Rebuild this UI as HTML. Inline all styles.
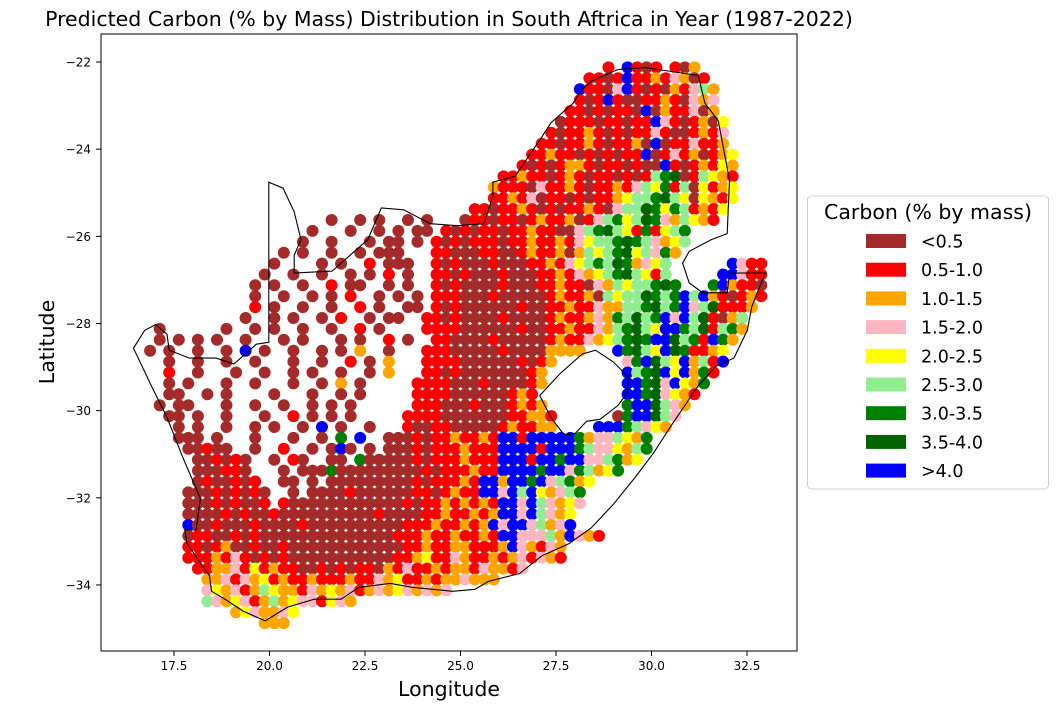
<!DOCTYPE html>
<html><head><meta charset="utf-8">
<style>
html,body{margin:0;padding:0;background:#fff;}
svg{display:block;font-family:"DejaVu Sans","Liberation Sans",sans-serif;}
</style></head>
<body>
<svg id="chart" width="1058" height="709" viewBox="0 0 1058 709" xmlns="http://www.w3.org/2000/svg">
<rect x="0" y="0" width="1058" height="709" fill="#fff"/>
<text x="449" y="26" font-size="20.5" text-anchor="middle">Predicted Carbon (% by Mass) Distribution in South Aftrica in Year (1987-2022)</text>
<g id="dots"></g>
<g id="outline"></g>
<rect x="101" y="34" width="696" height="617" fill="none" stroke="#000" stroke-width="1"/>
<g id="xticks"></g>
<g id="yticks"></g>
<text x="449" y="696" font-size="20.5" text-anchor="middle">Longitude</text>
<text x="54" y="342" font-size="20.5" text-anchor="middle" transform="rotate(-90 54 342)">Latitude</text>
<g id="legend">
<rect x="807.5" y="196" width="241" height="293" rx="4" fill="#fff" stroke="#d0d0d0"/>
<text x="928" y="219" font-size="20.5" text-anchor="middle">Carbon (% by mass)</text>
</g>
</svg>
<script>
// ---- data ----
const classLabels = ["<0.5","0.5-1.0","1.0-1.5","1.5-2.0","2.0-2.5","2.5-3.0","3.0-3.5","3.5-4.0",">4.0"];
const classCodes = ["b","r","o","p","y","l","g","d","u"];
const classColors = ["#a52a2a","#ff0000","#ffa500","#ffb6c1","#ffff00","#90ee90","#008000","#006400","#0000ff"];
const xTicks = [17.5,20.0,22.5,25.0,27.5,30.0,32.5];
const yTicks = [-22,-24,-26,-28,-30,-32,-34];
const gridLon0 = 16.5, gridLat0 = -22.0, gridStep = 0.25;
// each row (0.25 deg latitude band): list of [startColumn, class codes] ('.' = no sample)
const gridRows = [
 [[49,"r.urbr.rbo"]],
 [[47,"rrbrurrorpobr"]],
 [[46,"urrbpurbrborplo"]],
 [[46,"rbrurbbrrorbpop"]],
 [[45,"rrbrbrrbuborrpbo"]],
 [[44,"brrrbrrbrruprbroby"]],
 [[43,"rbrrorbrbrrprbbrorp"]],
 [[42,"rrbrrorbrrobubrrprro"]],
 [[41,"rrorrbrbrbrrubrprobroy"]],
 [[40,"rbrbroorbrrbrbburbroryo"]],
 [[38,"rrorrbrorbrrbrbrlgdbrlyor"]],
 [[37,"orrrbprrorbrrorplygrlbyroy"]],
 [[37,"rrorpbrrbrbrroyllgdlybyory"]],
 [[35,"rrbrrorbrbrrorbplldgyglrory"]],
 [[20,"b..b.b..b.b."],[34,"brrbrrbrorrobrplgyldgpolyor"]],
 [[18,"b...b..b.b.bb"],[32,"rbrbrrbrrorrbbplgdlyrgrylg"]],
 [[17,"b..b...b.bb.b"],[31,"rbrbrrrbrrorrorpyllgdglpoyl"]],
 [[15,"b.b..b..b.bbb."],[31,"rrbbbrrbbrorrobolylgdylpgo"]],
 [[14,"b....b.b..r.bbb."],[31,"rbrbbbrbbbrrorpylgldgopyl"],[62,"uprr"]],
 [[13,"b..b..b..b.b.r.b"],[31,"rrbrbbbrbbbrrorpoylgdlyrl"],[61,"uuprr"]],
 [[12,"b.b..b..r.bb..b.b."],[31,"rbrbbbbrbbbrrorrbpolyllgdg"],[60,"guorrb"]],
 [[12,"b..b..b.b.r..b.b.b"],[31,"rrrbbbrbbbbbrorroblylldglguluorbror"]],
 [[12,"r.b..b..b..r.b..bb"],[31,"rbrbbbbbbrbbrrorrpoollgdlgupldrrro"]],
 [[11,"b..b.b..b.r..b.bb."],[30,"rrbrbbbbrbbbbrorropogldlgupuldrbol"]],
 [[2,"b"],[9,"b..b.b..b..b..r.b."],[30,"rrrrbbbbbbrbbrrorrpolgdlyuugldrlgo"]],
 [[0,"..b.b.b.b..b...b.b...b.b..r.b."],[31,"rrbbbbrbbbbbrorrpoylgdguudlgrugo"]],
 [[1,"b.b..b..b.u.b..b..b.b.o..b"],[30,"rrrbbbbbrbbbboooo"],[50,"ugdlyudgrroy"]],
 [[3,"b..b..b..b...b..b..r.b.o."],[30,"rrrrbbbbbbrbro"],[51,"pgudlyuolru"]],
 [[3,"r..b...b..b..b.b..b..b.o"],[30,"rrbrbbbbbbbro"],[51,"ulgduyuogr"]],
 [[3,"b.b...b..b...b..b.o.b."],[29,"rrrrbbbrbbbbro"],[51,"uugdpuyog"]],
 [[3,"bb..b.b....b...b..b.b."],[29,"rrrrbbbbbbror"],[51,"uugdpyor"]],
 [[2,"b.bb...b..b..b..b.b.b"],[29,"rrrbbbrbbbroro"],[51,"guudlpo"]],
 [[3,"bb.b..b...b..r.b.b.b."],[28,"rrrrbbbbbbbrroor"],[50,"bguudlp"]],
 [[4,"b.b..b..b.b..b.u.b..b."],[28,"rbbrrbbbbbrorroo"],[48,"uuuglpyo"]],
 [[4,"bbb.b...b...b..b.g.u..b"],[27,"bbrbrrorroruuruuuuugopplyog"]],
 [[5,"bbrbb..b..r..b.bub.b.b"],[27,"bbrbrrrorrruuuuruuuglppyolg"]],
 [[6,"bbrbrb..b.rb..bb.gbb.b"],[26,"bbbrbrrrorrruuuruuguupplgoy"]],
 [[6,"bbbrrb...b.bbbgbbbbbb"],[26,"bbbbrbrrrorruuuuguupgloyg"]],
 [[6,"brbbrbr..bb.b.bbbbbbbb"],[27,"bbrbrrroruuouuguplgoy"]],
 [[5,"bbbrbrbrb..b.bbbbrbbbbb"],[27,"bbrrbrorruupuluyoplg"]],
 [[5,"bbbrbrbbr.rbbbbbbbbbbbbrbrrorororuupulpoyp"]],
 [[5,"bbbbrbrbbrbbbbbbbbbbrbbbbrrorrorouupulpoy"]],
 [[5,"ubbrbbbrbbbbrbbbbbbbbbbrrrorroroupuuplopu"]],
 [[5,"brrbbrbrbbbbbbbbbbbbbbrrrorrorroruuppploupor"]],
 [[5,"rrbrobbrbbrbbbbbbbbbbbbrrorroorrrouporpo"]],
 [[5,"rrrorprbrbrbbbbbbbbbbbrroyrrporroroprpor"]],
 [[6,"rroopryrorrbbrbrbrrborprroroorpoorp"]],
 [[7,"ooprpoyrorrorrrorrpoyrroroopooo"]],
 [[7,"pyoprolyoorpoyopropoypopop"]],
 [[7,"lpoyproloypprypo"]],
 [[10,"oypoopy"]],
 [[13,"ooo"]]
];
// ---- axes ----
const NS = "http://www.w3.org/2000/svg";
function xScale(lon){ return 174 + (lon - 17.5) * 38.2; }
function yScale(lat){ return 62 + (-22 - lat) * 43.58; }
function mk(tag, attrs){ const e = document.createElementNS(NS, tag); for (const k in attrs) e.setAttribute(k, attrs[k]); return e; }

const xg = document.getElementById('xticks');
xTicks.forEach(v => {
  const x = xScale(v);
  const t = mk('line', {x1:x, x2:x, y1:651, y2:656, stroke:'#000'});
  
  
  xg.appendChild(t);
  const l = mk('text', {x:x, y:670, 'font-size':12, 'text-anchor':'middle'});
  
  
  l.textContent = v.toFixed(1);
  xg.appendChild(l);
});
const yg = document.getElementById('yticks');
yTicks.forEach(v => {
  const y = yScale(v);
  const t = mk('line', {x1:96, x2:101, y1:y, y2:y, stroke:'#000'});
  
  
  yg.appendChild(t);
  const l = mk('text', {x:91, y:y+4.5, 'font-size':12, 'text-anchor':'end'});
  
  
  l.textContent = '\u2212' + Math.abs(v);
  yg.appendChild(l);
});

// ---- points ----
const dg = document.getElementById('dots');
gridRows.forEach((segs, r) => {
  const lat = gridLat0 - gridStep * r - gridStep / 2;
  segs.forEach(seg => {
    const start = seg[0], codes = seg[1];
    for (let i = 0; i < codes.length; i++) {
      const k = classCodes.indexOf(codes[i]);
      if (k < 0) continue;
      const lon = gridLon0 + gridStep * (start + i) + gridStep / 2;
      const c = mk('circle', {cx:xScale(lon).toFixed(1), cy:yScale(lat).toFixed(1), r:6, fill:classColors[k]});
      
      
      dg.appendChild(c);
    }
  });
});

// ---- outline (geometry) ----
const outer = [[75,805],[100,760],[125,745],[150,770],[155,810],[200,830],[260,830],[300,845],[320,825],[350,795],[378,790],[378,385],[410,400],[435,460],[450,530],[435,570],[435,615],[520,610],[560,570],[600,530],[630,450],[680,455],[740,490],[800,495],[860,490],[880,420],[880,385],[930,370],[990,270],[1010,235],[1060,185],[1080,150],[1100,130],[1160,100],[1220,95],[1340,115],[1355,185],[1385,230],[1400,320],[1410,380],[1405,515],[1370,530],[1320,560],[1305,590],[1320,640],[1350,665],[1405,665],[1410,615],[1490,615],[1460,700],[1450,760],[1420,830],[1380,850],[1340,900],[1310,950],[1280,1000],[1240,1070],[1200,1130],[1150,1200],[1100,1260],[1050,1300],[990,1330],[940,1375],[870,1395],[840,1415],[790,1420],[700,1410],[650,1400],[580,1410],[540,1440],[480,1440],[420,1460],[370,1495],[320,1470],[280,1440],[250,1420],[245,1380],[195,1300],[190,1265],[215,1265],[225,1185],[185,1080],[150,980],[115,900]];
const hole = [[985,925],[1030,870],[1080,820],[1110,810],[1150,840],[1185,880],[1180,920],[1160,950],[1120,985],[1090,990],[1065,1020],[1040,1025],[1010,980]];
function toPath(pts){ return 'M' + pts.map(p => (100 + p[0]/2.24).toFixed(1) + ',' + (30 + p[1]/2.53).toFixed(1)).join('L') + 'Z'; }
const og = document.getElementById('outline');
const p1 = mk('path', {d:toPath(outer), fill:'none', stroke:'#000', 'stroke-width':1.1});


og.appendChild(p1);
const p2 = mk('path', {d:toPath(hole), fill:'none', stroke:'#000', 'stroke-width':1.1});


og.appendChild(p2);

// ---- legend ----
const lg = document.getElementById('legend');
classLabels.forEach((lab, i) => {
  const y = 241 + i * 28.7;
  const r = mk('rect', {x:866, y:y-7, width:40, height:14, fill:classColors[i]});
  
  
  lg.appendChild(r);
  const t = mk('text', {x:921, y:y+6.5, 'font-size':17.5});
  
  
  t.textContent = lab;
  lg.appendChild(t);
});
</script>
</body></html>
